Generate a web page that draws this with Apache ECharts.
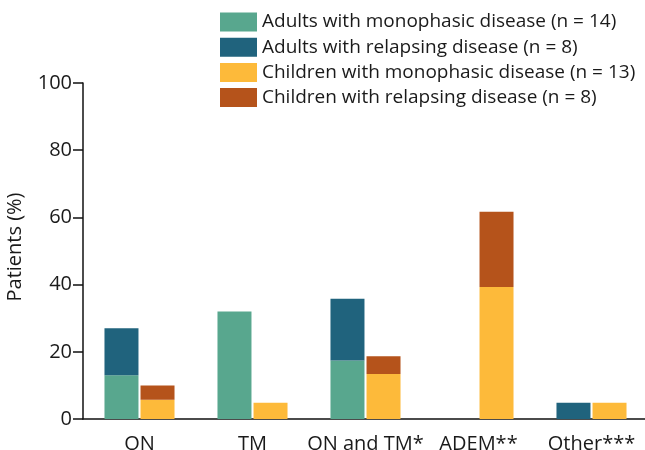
<!DOCTYPE html>
<html>
<head>
<meta charset="utf-8">
<script src="https://cdn.jsdelivr.net/npm/echarts@6/dist/echarts.min.js"></script>
<style>
  html, body { margin: 0; padding: 0; background: #fff; }
  #chart { width: 645px; height: 450px; }
</style>
</head>
<body>
<div id="chart"></div>
<script>
const categories = ["ON", "TM", "ON and TM*", "ADEM**", "Other***"];
const adultsMono = [13, 32, 17.4, 0, 0];
const adultsRelapsing = [14, 0, 18.4, 0, 4.8];
const childrenMono = [5.7, 4.8, 13.4, 39.3, 4.8];
const childrenRelapsing = [4.3, 0, 5.3, 22.4, 0];
const yTicks = [0, 20, 40, 60, 80, 100];

const seriesNames = [
  "Adults with monophasic disease (n = 14)",
  "Adults with relapsing disease (n = 8)",
  "Children with monophasic disease (n = 13)",
  "Children with relapsing disease (n = 8)"
];
const colors = ["#58a78e", "#20637d", "#fdba3a", "#b5531b"];

let myChart = echarts.init(document.getElementById("chart"));
const font = "Open Sans";

function bar(name, stack, data) {
  return {
    name: name,
    type: "bar",
    stack: stack,
    barWidth: 34,
    barGap: "6%",
    data: data
  };
}

let option = {
  animation: false,
  color: colors,
  textStyle: { fontFamily: font },
  legend: {
    orient: "vertical",
    left: 220,
    top: 12.5,
    padding: 0,
    itemWidth: 37,
    itemHeight: 19,
    itemGap: 6.2,
    icon: "rect",
    textStyle: { fontSize: 19, color: "#1a1a1a", fontFamily: font },
    data: seriesNames
  },
  grid: { left: 83, right: -3, top: 83, bottom: 31, outerBoundsMode: "none" },
  xAxis: {
    type: "category",
    data: categories,
    axisLine: { lineStyle: { color: "#111", width: 1.5 } },
    axisTick: { alignWithLabel: true, length: 8, lineStyle: { color: "#111", width: 1.5 } },
    axisLabel: { interval: 0, fontSize: 20, color: "#1a1a1a", margin: 15, fontFamily: font }
  },
  yAxis: {
    type: "value",
    min: yTicks[0],
    max: yTicks[yTicks.length - 1],
    interval: 20,
    splitLine: { show: false },
    axisLine: { show: true, lineStyle: { color: "#111", width: 1.5 } },
    axisTick: { show: true, length: 10, lineStyle: { color: "#111", width: 1.5 } },
    axisLabel: { fontSize: 20, color: "#1a1a1a", margin: 11, fontFamily: font }
  },
  graphic: [
    {
      type: "text",
      x: 5,
      y: 247,
      rotation: Math.PI / 2,
      style: {
        text: "Patients (%)",
        fontSize: 20,
        fontFamily: font,
        fill: "#1a1a1a",
        align: "center",
        verticalAlign: "top"
      }
    }
  ],
  series: [
    bar(seriesNames[0], "adults", adultsMono),
    bar(seriesNames[1], "adults", adultsRelapsing),
    bar(seriesNames[2], "children", childrenMono),
    bar(seriesNames[3], "children", childrenRelapsing)
  ]
};

option && myChart.setOption(option);
</script>
</body>
</html>
